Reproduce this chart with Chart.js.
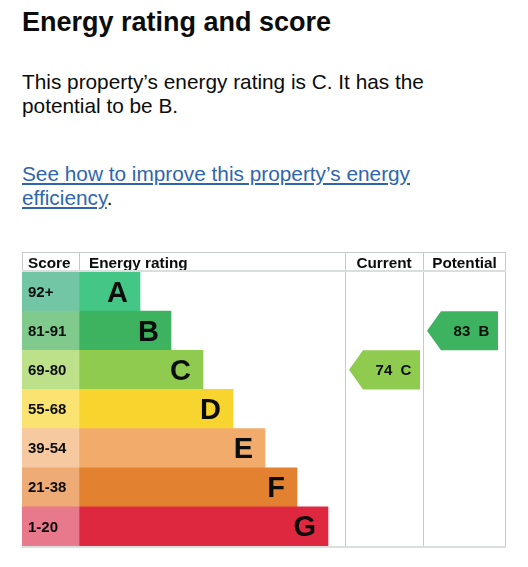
<!DOCTYPE html>
<html>
<head>
<meta charset="utf-8">
<script src="https://cdn.jsdelivr.net/npm/chart.js@4"></script>
<style>
  body { margin: 0; background: #fff; font-family: "Liberation Sans", Arial, sans-serif; color: #0b0c0c; }
  h2 { position: absolute; left: 22px; top: 9px; margin: 0; font-size: 27px; line-height: 27px; font-weight: bold; }
  .p { position: absolute; left: 22px; margin: 0; font-size: 20.8px; line-height: 24px; width: 460px; }
  a { color: #2f66ab; text-decoration: underline; text-underline-offset: 2px; }
  #wrap { position: absolute; left: 22px; top: 252px; width: 484px; height: 296px; }
</style>
</head>
<body>
<h2>Energy rating and score</h2>
<p class="p" style="top:70px">This property’s energy rating is C. It has the<br>potential to be B.</p>
<p class="p" style="top:162px"><a href="#">See how to improve this property’s energy<br>efficiency</a>.</p>
<div id="wrap"><canvas id="epc"></canvas></div>
<script>
// rating bands, top to bottom
const bands = ['A', 'B', 'C', 'D', 'E', 'F', 'G'];
const scoreRanges = ['92+', '81-91', '69-80', '55-68', '39-54', '21-38', '1-20'];
// bar end of each band (chart units, score column takes 0-57)
const barEnds = [118, 149, 181, 211, 243, 275, 306];
const bandColours = ['#43c686', '#3db35f', '#8fcb4e', '#f8d42e', '#f1ab6a', '#e2812f', '#dd2840'];
const scoreColours = ['#72c6a5', '#7fca8c', '#bde08b', '#fbe372', '#f6c9a1', '#eeab75', '#e8788b'];
const currentScore = 74, currentBand = 'C';
const potentialScore = 83, potentialBand = 'B';

const scoreColEnd = 57;
const columns = { current: [323, 401], potential: [401, 484] };
const lineColour = '#c8c9ca';

const tablePlugin = {
  id: 'epcTable',
  afterDatasetsDraw(chart) {
    const ctx = chart.ctx;
    const x = chart.scales.x, y = chart.scales.y;
    const top = chart.chartArea.top, bottom = chart.chartArea.bottom;
    const left = x.getPixelForValue(0), right = x.getPixelForValue(484);
    const rowH = y.getPixelForValue(1) - y.getPixelForValue(0);
    ctx.save();
    // header
    ctx.fillStyle = '#0b0c0c';
    ctx.font = 'bold 15.3px "Liberation Sans", Arial';
    ctx.textBaseline = 'alphabetic';
    ctx.textAlign = 'left';
    ctx.fillText('Score', left + 6, 16);
    ctx.fillText('Energy rating', x.getPixelForValue(scoreColEnd) + 10, 16);
    ctx.textAlign = 'center';
    ctx.fillText('Current', x.getPixelForValue((columns.current[0] + columns.current[1]) / 2), 16);
    ctx.fillText('Potential', x.getPixelForValue((columns.potential[0] + columns.potential[1]) / 2), 16);
    // score labels and band letters
    bands.forEach((b, i) => {
      const cy = y.getPixelForValue(i);
      ctx.textAlign = 'left';
      ctx.textBaseline = 'middle';
      ctx.font = 'bold 15px "Liberation Sans", Arial';
      ctx.fillText(scoreRanges[i], left + 6, cy + 1);
      ctx.textAlign = 'right';
      ctx.font = 'bold 29px "Liberation Sans", Arial';
      ctx.fillText(b, x.getPixelForValue(barEnds[i]) - 12, cy + 2);
    });
    // lines
    ctx.strokeStyle = lineColour;
    ctx.lineWidth = 1;
    const vline = (px, y0, y1) => { ctx.beginPath(); ctx.moveTo(Math.round(px) + 0.5, y0); ctx.lineTo(Math.round(px) + 0.5, y1); ctx.stroke(); };
    ctx.beginPath(); ctx.moveTo(left, 0.5); ctx.lineTo(right, 0.5); ctx.stroke();
    vline(left, 0, 20);
    vline(x.getPixelForValue(scoreColEnd), 0, 20);
    vline(x.getPixelForValue(columns.current[0]), 0, bottom);
    vline(x.getPixelForValue(columns.potential[0]), 0, bottom);
    vline(right - 1, 0, bottom);
    ctx.strokeStyle = '#dcdddd';
    ctx.lineWidth = 2;
    ctx.beginPath(); ctx.moveTo(left, top - 1); ctx.lineTo(right, top - 1); ctx.stroke();
    ctx.beginPath(); ctx.moveTo(left, bottom + 1); ctx.lineTo(right, bottom + 1); ctx.stroke();
    // arrows
    const arrow = (col, band, score) => {
      const i = bands.indexOf(band);
      const cy = y.getPixelForValue(i);
      const h = rowH;
      const x0 = x.getPixelForValue(col[0]) + 4, x1 = x0 + 71;
      ctx.fillStyle = bandColours[i];
      ctx.beginPath();
      ctx.moveTo(x0, cy);
      ctx.lineTo(x0 + 14, cy - h / 2);
      ctx.lineTo(x1, cy - h / 2);
      ctx.lineTo(x1, cy + h / 2);
      ctx.lineTo(x0 + 14, cy + h / 2);
      ctx.closePath();
      ctx.fill();
      ctx.fillStyle = '#0b0c0c';
      ctx.font = 'bold 15px "Liberation Sans", Arial';
      ctx.textAlign = 'center';
      ctx.textBaseline = 'middle';
      ctx.fillText(score + '  ' + band, (x0 + 14 + x1) / 2 + 2, cy + 1);
    };
    arrow(columns.current, currentBand, currentScore);
    arrow(columns.potential, potentialBand, potentialScore);
    ctx.restore();
  }
};

new Chart(document.getElementById('epc'), {
  type: 'bar',
  data: {
    labels: bands,
    datasets: [
      { data: bands.map(() => [0, scoreColEnd]), backgroundColor: scoreColours, grouped: false },
      { data: barEnds.map(v => [scoreColEnd, v]), backgroundColor: bandColours, grouped: false }
    ]
  },
  options: {
    indexAxis: 'y',
    responsive: true,
    maintainAspectRatio: false,
    animation: false,
    layout: { padding: { top: 20, bottom: 2 } },
    datasets: { bar: { categoryPercentage: 1, barPercentage: 1, borderWidth: 0 } },
    scales: {
      x: { type: 'linear', min: 0, max: 484, display: false },
      y: { display: false }
    },
    plugins: { legend: { display: false }, tooltip: { enabled: false } }
  },
  plugins: [tablePlugin]
});
</script>
</body>
</html>
